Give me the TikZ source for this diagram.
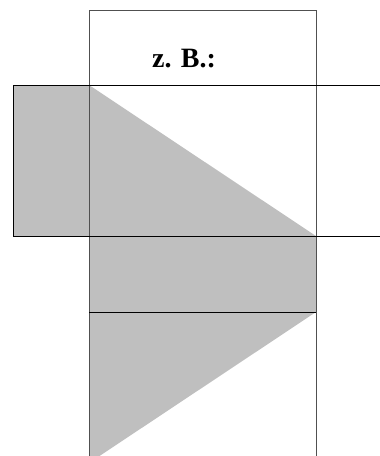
\documentclass[tikz,border=0pt]{standalone}
\usepackage{fontspec}
\setmainfont{Liberation Serif}
\definecolor{shade}{HTML}{BFBFBF}
\definecolor{edge}{HTML}{505050}
\tikzset{
  fillshape/.style={fill=shade, draw=none},
  frame/.style={draw=edge, line width=1pt},
  rule/.style={draw=black, line width=1pt},
  label/.style={font=\bfseries\fontsize{28}{32}\selectfont, inner sep=0pt}
}
\begin{document}
\begin{tikzpicture}[x=1pt,y=-1pt]
\useasboundingbox (0,0) rectangle (380,456);
\clip (0,0) rectangle (380,456);
% coordinates
\coordinate (TL) at (89,10);
\coordinate (TR) at (316,10);
\coordinate (A) at (89,85);
\coordinate (B) at (316,236);
\coordinate (C) at (89,236);
\coordinate (D) at (316,312);
\coordinate (E) at (89,312);
\coordinate (F) at (89,463);
% fills
\fill[fillshape] (13,85) rectangle (C);
\fill[fillshape] (A) -- (B) -- (C) -- cycle;
\fill[fillshape] (C) rectangle (D);
\fill[fillshape] (E) -- (D) -- (F) -- cycle;
% lines
\draw[frame] (89,470) -- (TL) -- (TR) -- (316,470);
\draw[rule] (13,85) -- (380,85);
\draw[rule] (13,236) -- (380,236);
\draw[rule] (13,85) -- (13,236);
\draw[rule] (E) -- (D);
\node[label] (zb) at (184,59) {z. B.:};
\end{tikzpicture}
\end{document}
